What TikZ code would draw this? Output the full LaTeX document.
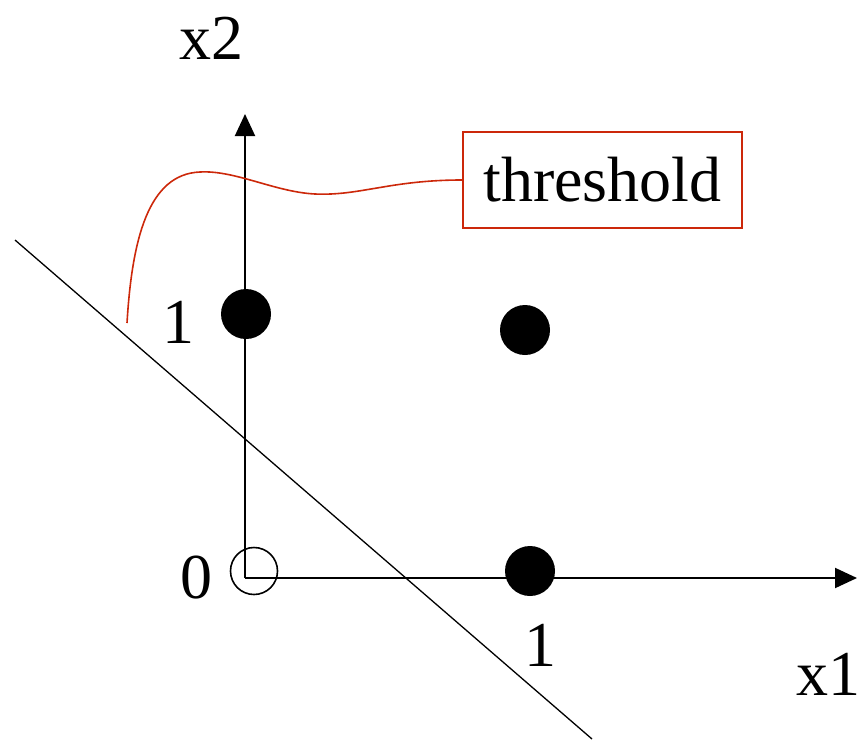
\documentclass[tikz,border=0pt]{standalone}
\usepackage{fontspec}
\setmainfont{Liberation Serif}
\usepackage{tikz}
\usetikzlibrary{arrows.meta, positioning, calc}
\definecolor{threshred}{RGB}{204,40,10}

\begin{document}
\begin{tikzpicture}[
  x=1pt, y=-1pt,
  axis/.style={line width=2pt, -{Triangle[length=22pt, width=20pt]}},
  dot/.style={circle, fill=black, inner sep=0pt, minimum size=50pt},
  hollow/.style={circle, draw=black, line width=1.6pt, inner sep=0pt, minimum size=47pt},
  lbl/.style={font=\fontsize{64}{70}\selectfont, inner sep=0pt},
  callout/.style={draw=threshred, line width=1.8pt, inner sep=0pt, minimum width=279pt, minimum height=96pt, font=\fontsize{64}{70}\selectfont},
]
  \useasboundingbox (0,0) rectangle (861,739);

  % Axes
  \coordinate (O) at (245,578);
  \coordinate (xend) at (857,578);
  \coordinate (yend) at (245,114);
  \draw[axis] (O) -- (xend);
  \draw[axis] (O) -- (yend);
  \node[lbl] (x1lbl) at (828,674) {x1};
  \node[lbl] (x2lbl) at (211,38) {x2};

  % Tick labels
  \node[lbl] (zero) at (196,578) {0};
  \node[lbl] (oneY) at (178,322) {1};
  \node[lbl] (oneX) at (540,645) {1};

  % Input points
  \node[hollow] (p00) at (254,571) {};
  \node[dot] (p01) at (246,314) {};
  \node[dot] (p11) at (525,330) {};
  \node[dot] (p10) at (530,571) {};

  % Separating line
  \coordinate (lineA) at (15,240);
  \coordinate (lineB) at (592,739);
  \draw[line width=1.3pt] (lineA) -- (lineB);

  % Threshold callout
  \node[callout] (thr) at (602.5,180) {threshold};
  \coordinate (tip) at (127,323);
  \draw[threshred, line width=1.6pt] (thr.west)
    .. controls (390,180) and (360,196) .. (315,194)
    .. controls (275,192) and (235,170) .. (200,172)
    .. controls (148,174) and (132,240) .. (tip);
\end{tikzpicture}
\end{document}
